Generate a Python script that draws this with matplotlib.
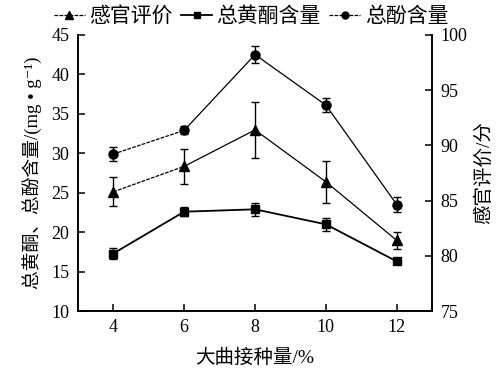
import matplotlib
matplotlib.use('Agg')
import matplotlib.pyplot as plt
from matplotlib.lines import Line2D

plt.rcParams['font.family'] = ['Liberation Serif', 'Noto Sans CJK SC', 'DejaVu Sans']

# 大曲接种量 (%)
doses = [4, 6, 8, 10, 12]

# 感官评价 (right axis)
sensory = [85.8, 88.1, 91.4, 86.7, 81.4]
sensory_err = [1.3, 1.55, 2.5, 1.9, 0.75]

# 总黄酮含量 (left axis)
flavone = [17.3, 22.6, 22.9, 21.0, 16.3]
flavone_err = [0.75, 0.55, 0.8, 0.8, 0.3]

# 总酚含量 (left axis)
phenol = [29.9, 32.9, 42.5, 36.1, 23.5]
phenol_err = [0.9, 0.5, 1.1, 0.9, 0.9]

fig = plt.figure(figsize=(5.02, 3.79), dpi=100)
ax = fig.add_axes([0.155, 0.179, 0.706, 0.729])
ax2 = ax.twinx()

ebkw = dict(ecolor='black', elinewidth=1.0, capsize=3, capthick=1.0, ls='none')
dash = (0, (3, 1))

# total flavone: solid line, squares
ax.errorbar(doses, flavone, yerr=flavone_err, **ebkw)
ax.plot(doses, flavone, color='black', lw=1.3, marker='s', ms=6)

# total phenol: dashed first segment, circles
ax.errorbar(doses, phenol, yerr=phenol_err, **ebkw)
ax.plot(doses[:2], phenol[:2], color='black', lw=0.9, ls=dash)
ax.plot(doses[1:], phenol[1:], color='black', lw=0.9)
ax.plot(doses, phenol, color='black', ls='none', marker='o', ms=6.5)

# sensory score on the right axis: triangles
ax2.errorbar(doses, sensory, yerr=sensory_err, **ebkw)
ax2.plot(doses[:2], sensory[:2], color='black', lw=0.9, ls=dash)
ax2.plot(doses[1:], sensory[1:], color='black', lw=0.9)
ax2.plot(doses, sensory, color='black', ls='none', marker='^', ms=7)

ax.set_xlim(3, 13)
ax.set_ylim(10, 45)
ax2.set_ylim(75, 100)
ax.set_xticks(doses)
ax.set_yticks(range(10, 46, 5))
ax2.set_yticks(range(75, 101, 5))

for a in (ax, ax2):
    a.spines['top'].set_visible(False)
    for s in a.spines.values():
        s.set_linewidth(1.2)
ax.tick_params(axis='both', direction='in', length=5, width=1.1, labelsize=13, pad=6)
ax2.tick_params(axis='y', direction='in', length=5, width=1.1, labelsize=13, pad=6)

ax.set_xlabel('大曲接种量/%', fontsize=14, labelpad=9)
ax.set_ylabel('总黄酮、总酚含量/(mg • g⁻¹)', fontsize=13.5, labelpad=7)
ax2.set_ylabel('感官评价/分', fontsize=14, labelpad=5)

handles = [
    Line2D([], [], color='black', lw=0.9, ls=dash, marker='^', ms=6),
    Line2D([], [], color='black', lw=1.3, marker='s', ms=5),
    Line2D([], [], color='black', lw=0.9, ls=dash, marker='o', ms=5),
]
fig.legend(handles, ['感官评价', '总黄酮含量', '总酚含量'], loc='upper center',
           bbox_to_anchor=(0.5, 1.03), ncol=3, frameon=False, fontsize=15,
           handlelength=1.5, handletextpad=0.2, columnspacing=0.4)

fig.savefig('out.png', dpi=100)
